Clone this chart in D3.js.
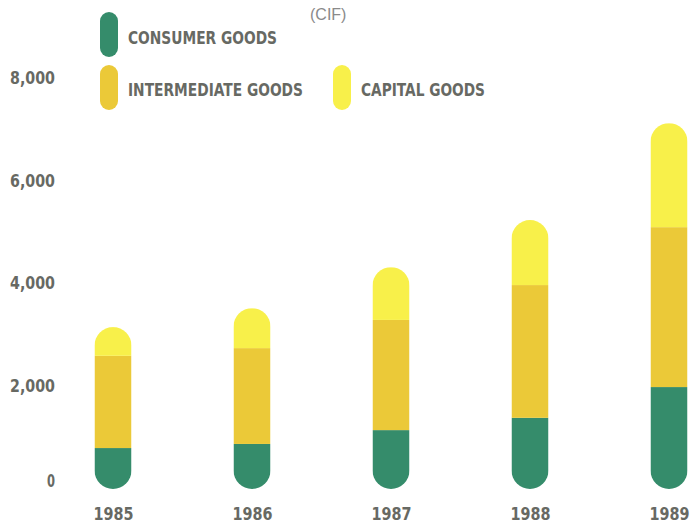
<!DOCTYPE html>
<html><head><meta charset="utf-8">
<script src="https://cdn.jsdelivr.net/npm/d3@7"></script>
<style>body{margin:0;background:#fff}svg{display:block}</style>
</head><body>
<svg id="chart" width="696" height="522"></svg>
<script>
const years = ["1985","1986","1987","1988","1989"];
const consumer = [760, 840, 1110, 1350, 1950];
const intermediate = [1800, 1870, 2150, 2590, 3120];
const capital = [560, 780, 1030, 1270, 2030];
const yTicks = [0, 2000, 4000, 6000, 8000];
const seriesNames = ["CONSUMER GOODS", "INTERMEDIATE GOODS", "CAPITAL GOODS"];
const colors = ["#358c6b", "#ebc938", "#f8f04a"];

const svg = d3.select("#chart");
const y = d3.scaleLinear().domain([0, 8000]).range([487, 77]);
const x = d3.scalePoint().domain(years).range([113, 669]);
const font = "'DejaVu Sans Condensed','DejaVu Sans',sans-serif";
const textCol = "#676963";

const rows = years.map((yr, i) => ({year: yr, consumer: consumer[i], intermediate: intermediate[i], capital: capital[i]}));
const stack = d3.stack().keys(["consumer", "intermediate", "capital"])(rows);

const bw = 37;
const defs = svg.append("defs");
rows.forEach((r, i) => {
  const total = r.consumer + r.intermediate + r.capital;
  defs.append("clipPath").attr("id", "clip" + i)
    .append("rect")
    .attr("x", x(r.year) - bw / 2).attr("width", bw)
    .attr("y", y(total)).attr("height", y(0) - y(total) + 2)
    .attr("rx", bw / 2).attr("ry", bw / 2);
});

stack.forEach((s, k) => {
  svg.append("g").selectAll("rect").data(s).join("rect")
    .attr("clip-path", (d, i) => `url(#clip${i})`)
    .attr("x", d => x(d.data.year) - bw / 2)
    .attr("width", bw)
    .attr("y", d => y(d[1]))
    .attr("height", (d, i) => y(d[0]) - y(d[1]) + (k === 0 ? 3 : 0))
    .attr("fill", colors[k]);
});

// y axis labels
const yAxis = d3.axisLeft(y).tickValues(yTicks).tickFormat(d3.format(",")).tickSize(0).tickPadding(0);
const gy = svg.append("g").attr("transform", "translate(55,0)").call(yAxis);
gy.select(".domain").remove();
gy.selectAll("text").attr("font-family", font).attr("font-size", 18).attr("font-weight", "bold").attr("fill", textCol)
  .attr("textLength", d => d === 0 ? 8 : 45).attr("lengthAdjust", "spacingAndGlyphs")
  .attr("dy", d => d === 0 ? "-0.05em" : "0.38em");

// x axis labels
const xAxis = d3.axisBottom(x).tickSize(0).tickPadding(0);
const gx = svg.append("g").attr("transform", "translate(0,506)").call(xAxis);
gx.select(".domain").remove();
gx.selectAll("text").attr("font-family", font).attr("font-size", 18).attr("font-weight", "bold").attr("fill", textCol)
  .attr("textLength", 40).attr("lengthAdjust", "spacingAndGlyphs").attr("dy", "0.75em");

// legend
const legend = [
  {x: 100, y: 12, tx: 128, ty: 38, w: 149},
  {x: 100, y: 65, tx: 128, ty: 90, w: 175},
  {x: 333, y: 65, tx: 361, ty: 90, w: 124}
];
legend.forEach((l, k) => {
  svg.append("rect").attr("x", l.x).attr("y", l.y).attr("width", 18).attr("height", 45)
    .attr("rx", 9).attr("ry", 9).attr("fill", colors[k]);
  svg.append("text").attr("x", l.tx).attr("y", l.ty).attr("dy", "0.36em")
    .attr("font-family", font).attr("font-size", 17.5).attr("font-weight", "bold").attr("fill", textCol)
    .attr("textLength", l.w).attr("lengthAdjust", "spacingAndGlyphs")
    .text(seriesNames[k]);
});

svg.append("text").attr("x", 310).attr("y", 14).attr("dy", "0.36em")
  .attr("font-family", "'Liberation Sans',Arial,sans-serif").attr("font-size", 16)
  .attr("fill", "#8a8a8a").text("(CIF)");
</script>
</body></html>
